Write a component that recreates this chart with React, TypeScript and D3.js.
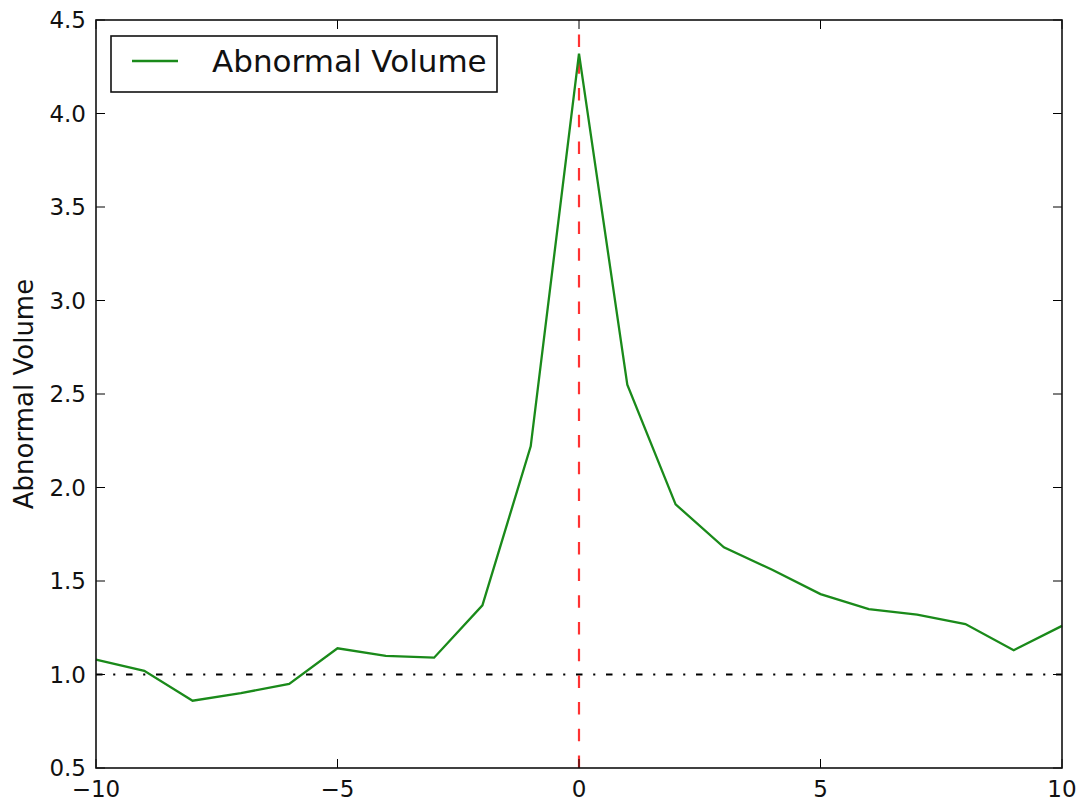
import React, { useRef, useEffect } from 'react';
import * as d3 from 'd3';

// event-window days and the abnormal volume
const days = [-10, -9, -8, -7, -6, -5, -4, -3, -2, -1, 0, 1, 2, 3, 4, 5, 6, 7, 8, 9, 10];
const abnormalVolume = [1.08, 1.02, 0.86, 0.9, 0.95, 1.14, 1.1, 1.09, 1.37, 2.22, 4.32, 2.55, 1.91, 1.68, 1.56, 1.43, 1.35, 1.32, 1.27, 1.13, 1.26];

const xTicks = [-10, -5, 0, 5, 10];
const yTicks = [0.5, 1.0, 1.5, 2.0, 2.5, 3.0, 3.5, 4.0, 4.5];
const baseline = 1.0;
const eventDay = 0;
const seriesName = 'Abnormal Volume';
const yLabel = 'Abnormal Volume';

const App = () => {
  const svgRef = useRef<SVGSVGElement>(null);

  useEffect(() => {
    const width = 1083;
    const height = 807;
    const m = { left: 96, right: 21, top: 20, bottom: 39 };
    const font = 'DejaVu Sans, sans-serif';

    const svg = d3.select(svgRef.current)
      .attr('width', width)
      .attr('height', height);
    svg.selectAll('*').remove();

    const x = d3.scaleLinear().domain([-10, 10]).range([m.left, width - m.right]);
    const y = d3.scaleLinear().domain([0.5, 4.5]).range([height - m.bottom, m.top]);

    const [x0, x1] = x.range();
    const [y0, y1] = y.range();

    svg.append('rect')
      .attr('width', width).attr('height', height).attr('fill', '#fff');

    // horizontal reference at 1.0 (dash-dot)
    svg.append('line')
      .attr('x1', x0).attr('x2', x1)
      .attr('y1', y(baseline)).attr('y2', y(baseline))
      .attr('stroke', '#000')
      .attr('stroke-width', 2)
      .attr('stroke-dasharray', '6.5,10.7,2.1,10.7');

    // event day (red dashed), drawn from the bottom up
    svg.append('line')
      .attr('x1', x(eventDay)).attr('x2', x(eventDay))
      .attr('y1', y0).attr('y2', y1)
      .attr('stroke', '#ff0000')
      .attr('stroke-opacity', 0.8)
      .attr('stroke-width', 2.2)
      .attr('stroke-dasharray', '12.5,14.2');

    const line = d3.line<number>()
      .x((d, i) => x(days[i]))
      .y(d => y(d));

    svg.append('path')
      .datum(abnormalVolume)
      .attr('d', line)
      .attr('fill', 'none')
      .attr('stroke', '#1a8a1a')
      .attr('stroke-width', 2.3);

    // ticks pointing inwards on all four sides
    const tickLen = 9;
    const ticks = svg.append('g').attr('stroke', '#000').attr('stroke-width', 1);
    xTicks.forEach(t => {
      ticks.append('line').attr('x1', x(t)).attr('x2', x(t)).attr('y1', y0).attr('y2', y0 - tickLen);
      ticks.append('line').attr('x1', x(t)).attr('x2', x(t)).attr('y1', y1).attr('y2', y1 + tickLen);
    });
    yTicks.forEach(t => {
      ticks.append('line').attr('x1', x0).attr('x2', x0 + tickLen).attr('y1', y(t)).attr('y2', y(t));
      ticks.append('line').attr('x1', x1).attr('x2', x1 - tickLen).attr('y1', y(t)).attr('y2', y(t));
    });

    svg.append('rect')
      .attr('x', x0).attr('y', y1)
      .attr('width', x1 - x0).attr('height', y0 - y1)
      .attr('fill', 'none')
      .attr('stroke', '#111')
      .attr('stroke-width', 1.6);

    // tick labels
    svg.append('g')
      .selectAll('text')
      .data(xTicks)
      .join('text')
      .attr('x', d => x(d))
      .attr('y', y0 + 29)
      .attr('text-anchor', 'middle')
      .attr('font-family', font)
      .attr('font-size', 23)
      .attr('fill', '#111')
      .text(d => (d < 0 ? '\u2212' + Math.abs(d) : String(d)));

    svg.append('g')
      .selectAll('text')
      .data(yTicks)
      .join('text')
      .attr('x', x0 - 10)
      .attr('y', d => y(d))
      .attr('dy', '0.36em')
      .attr('text-anchor', 'end')
      .attr('font-family', font)
      .attr('font-size', 23)
      .attr('fill', '#111')
      .text(d => d3.format('.1f')(d));

    svg.append('text')
      .attr('transform', `translate(33,${(y0 + y1) / 2}) rotate(-90)`)
      .attr('text-anchor', 'middle')
      .attr('font-family', font)
      .attr('font-size', 26)
      .attr('fill', '#111')
      .text(yLabel);

    // legend
    const legend = svg.append('g');
    legend.append('rect')
      .attr('x', 111).attr('y', 36)
      .attr('width', 386).attr('height', 56)
      .attr('fill', '#fff')
      .attr('stroke', '#111')
      .attr('stroke-width', 1.6);
    legend.append('line')
      .attr('x1', 132).attr('x2', 178)
      .attr('y1', 61).attr('y2', 61)
      .attr('stroke', '#1a8a1a')
      .attr('stroke-width', 2.3);
    legend.append('text')
      .attr('x', 212)
      .attr('y', 72)
      .attr('font-family', font)
      .attr('font-size', 31)
      .attr('fill', '#111')
      .text(seriesName);
  }, []);

  return (
    <svg ref={svgRef} style={{ position: 'absolute', left: 0, top: 0 }}></svg>
  );
};

export default App;
